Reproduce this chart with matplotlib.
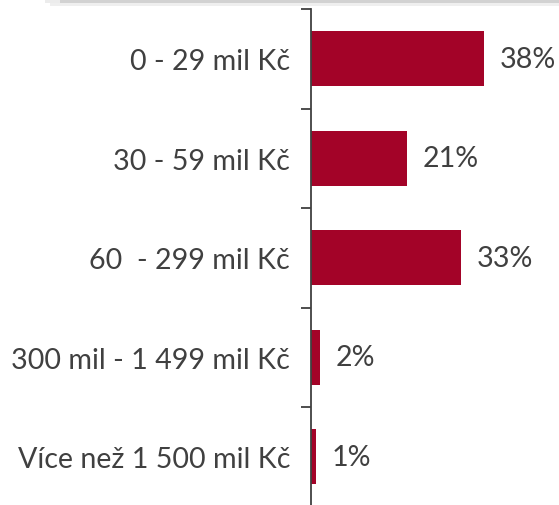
import matplotlib
matplotlib.use("Agg")
import matplotlib.pyplot as plt
from matplotlib.ticker import FixedLocator
from matplotlib.patches import Rectangle

categories = ["0 - 29 mil Kč", "30 - 59 mil Kč", "60  - 299 mil Kč",
              "300 mil - 1 499 mil Kč", "Více než 1 500 mil Kč"]
values = [38, 21, 33, 2, 1]
labels = ["38%", "21%", "33%", "2%", "1%"]

W, H = 559, 506
fig = plt.figure(figsize=(W / 100, H / 100), dpi=100)
fig.patch.set_facecolor("white")

# top shadow band
fig.patches.append(Rectangle((60 / W, 1 - 4 / H), 1, 4 / H, transform=fig.transFigure,
                             facecolor="#d2d2d2", edgecolor="none", zorder=0))
fig.patches.append(Rectangle((45 / W, 1 - 4 / H), 15 / W, 4 / H, transform=fig.transFigure,
                             facecolor="#ececec", edgecolor="none", zorder=0))
fig.patches.append(Rectangle((50 / W, 1 - 7 / H), 1, 3 / H, transform=fig.transFigure,
                             facecolor="#efefef", edgecolor="none", zorder=0))

left = 311 / W
top = 1 - 10 / H
bottom = -1.5 / H
ax = fig.add_axes([left, bottom, 1 - left, top - bottom])

n = len(categories)
ypos = list(range(n))
ax.barh(ypos, values, height=0.55, color="#A30328", edgecolor="none")
ax.set_ylim(n - 0.5, -0.5)
ax.set_xlim(0, 54.5)

fs = 20.6
for y, v, lab in zip(ypos, values, labels):
    ax.annotate(lab, (v, y), xytext=(11.5, 0), textcoords="offset points",
                va="center", ha="left", fontsize=fs, color="#404040", family="Lato")

ax.set_yticks(ypos)
ax.set_yticklabels(categories, fontsize=fs, color="#404040", family="Lato")
ax.tick_params(axis="y", which="major", length=0, pad=15)
ax.yaxis.set_minor_locator(FixedLocator([i - 0.5 for i in range(n + 1)]))
ax.tick_params(axis="y", which="minor", length=7.5, width=1.3, color="#404040")
ax.set_xticks([])
for s in ["top", "right", "bottom"]:
    ax.spines[s].set_visible(False)
ax.spines["left"].set_color("#404040")
ax.spines["left"].set_linewidth(1.3)
ax.patch.set_alpha(0)

fig.savefig("out.png", dpi=100)
